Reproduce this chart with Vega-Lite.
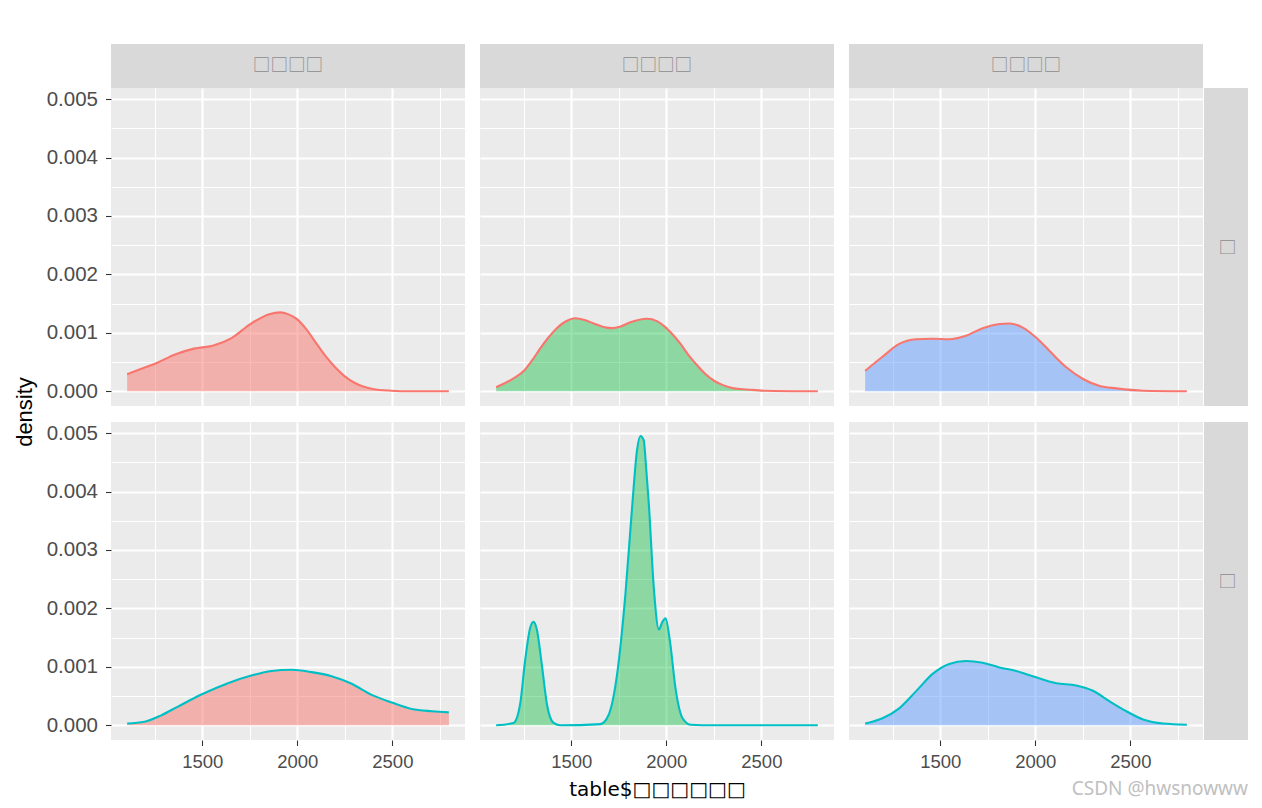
{
  "$schema": "https://vega.github.io/schema/vega-lite/v6.json",
  "background": "white",
  "padding": {"left": 14, "top": 44, "right": 0, "bottom": 0},
  "autosize": {"type": "pad"},
  "title": {"text": "CSDN @hwsnowww", "orient": "bottom", "anchor": "end", "font": "Noto Sans", "fontSize": 19, "fontWeight": "normal", "color": "#C0C0C0", "offset": -19},
  "datasets": {
    "p11": [
      {"x": 1105, "density": 0.00029}, {"x": 1159, "density": 0.00036}, {"x": 1258, "density": 0.00048},
      {"x": 1357, "density": 0.00063}, {"x": 1456, "density": 0.00073}, {"x": 1555, "density": 0.00078},
      {"x": 1654, "density": 0.00091}, {"x": 1753, "density": 0.00115}, {"x": 1852, "density": 0.00132},
      {"x": 1911, "density": 0.00135}, {"x": 1951, "density": 0.00132}, {"x": 2000, "density": 0.00123},
      {"x": 2050, "density": 0.00105}, {"x": 2100, "density": 0.00082}, {"x": 2149, "density": 0.0006},
      {"x": 2199, "density": 0.00041}, {"x": 2248, "density": 0.00026}, {"x": 2298, "density": 0.00015},
      {"x": 2347, "density": 0.00008}, {"x": 2397, "density": 0.00004}, {"x": 2495, "density": 0.00001},
      {"x": 2594, "density": 0.0}, {"x": 2797, "density": 0.0}
    ],
    "p12": [
      {"x": 1105, "density": 0.00007}, {"x": 1196, "density": 0.00022}, {"x": 1254, "density": 0.00036},
      {"x": 1301, "density": 0.00056}, {"x": 1336, "density": 0.00073}, {"x": 1380, "density": 0.00092},
      {"x": 1424, "density": 0.00108}, {"x": 1468, "density": 0.00119}, {"x": 1521, "density": 0.00125},
      {"x": 1570, "density": 0.00122}, {"x": 1618, "density": 0.00116}, {"x": 1670, "density": 0.00110},
      {"x": 1714, "density": 0.00108}, {"x": 1760, "density": 0.00111}, {"x": 1811, "density": 0.00118},
      {"x": 1899, "density": 0.00124}, {"x": 1950, "density": 0.0012}, {"x": 1987, "density": 0.00112},
      {"x": 2031, "density": 0.00098}, {"x": 2075, "density": 0.00081}, {"x": 2119, "density": 0.00061},
      {"x": 2163, "density": 0.00044}, {"x": 2207, "density": 0.00029}, {"x": 2251, "density": 0.00018},
      {"x": 2295, "density": 0.00011}, {"x": 2356, "density": 0.00005}, {"x": 2426, "density": 0.00003},
      {"x": 2514, "density": 0.00001}, {"x": 2797, "density": 0.0}
    ],
    "p13": [
      {"x": 1105, "density": 0.00035}, {"x": 1196, "density": 0.00059}, {"x": 1284, "density": 0.00081},
      {"x": 1372, "density": 0.00089}, {"x": 1460, "density": 0.0009}, {"x": 1547, "density": 0.00089},
      {"x": 1635, "density": 0.00095}, {"x": 1723, "density": 0.00108}, {"x": 1811, "density": 0.00115},
      {"x": 1864, "density": 0.00116}, {"x": 1934, "density": 0.00109}, {"x": 2004, "density": 0.00092},
      {"x": 2075, "density": 0.00069}, {"x": 2163, "density": 0.00041}, {"x": 2251, "density": 0.00021},
      {"x": 2339, "density": 0.00009}, {"x": 2426, "density": 0.00005}, {"x": 2567, "density": 0.00001},
      {"x": 2797, "density": 0.0}
    ],
    "p21": [
      {"x": 1105, "density": 0.00003}, {"x": 1196, "density": 0.00006}, {"x": 1284, "density": 0.00017},
      {"x": 1372, "density": 0.00032}, {"x": 1498, "density": 0.00053}, {"x": 1635, "density": 0.00072},
      {"x": 1758, "density": 0.00085}, {"x": 1864, "density": 0.00093}, {"x": 1969, "density": 0.00095},
      {"x": 2075, "density": 0.00091}, {"x": 2180, "density": 0.00084}, {"x": 2286, "density": 0.00071},
      {"x": 2391, "density": 0.00052}, {"x": 2497, "density": 0.00039}, {"x": 2602, "density": 0.00028},
      {"x": 2708, "density": 0.00024}, {"x": 2797, "density": 0.00022}
    ],
    "p22": [
      {"x": 1105, "density": 0.0}, {"x": 1196, "density": 0.00004}, {"x": 1231, "density": 0.00036},
      {"x": 1257, "density": 0.0011}, {"x": 1284, "density": 0.00167}, {"x": 1301, "density": 0.00177},
      {"x": 1319, "density": 0.00164}, {"x": 1345, "density": 0.00104}, {"x": 1372, "density": 0.00036},
      {"x": 1407, "density": 0.00004}, {"x": 1442, "density": 0.0}, {"x": 1653, "density": 0.00002},
      {"x": 1697, "density": 0.00018}, {"x": 1741, "density": 0.00087}, {"x": 1785, "density": 0.00225},
      {"x": 1820, "density": 0.00373}, {"x": 1846, "density": 0.00471}, {"x": 1864, "density": 0.00495},
      {"x": 1881, "density": 0.00488}, {"x": 1894, "density": 0.0044}, {"x": 1908, "density": 0.00379},
      {"x": 1934, "density": 0.00236}, {"x": 1961, "density": 0.00164}, {"x": 1978, "density": 0.00176},
      {"x": 1996, "density": 0.00183}, {"x": 2019, "density": 0.00144}, {"x": 2048, "density": 0.00064},
      {"x": 2084, "density": 0.00013}, {"x": 2128, "density": 0.00001}, {"x": 2251, "density": 0.0},
      {"x": 2797, "density": 0.0}
    ],
    "p23": [
      {"x": 1105, "density": 0.00003}, {"x": 1196, "density": 0.00012}, {"x": 1284, "density": 0.00029},
      {"x": 1372, "density": 0.00058}, {"x": 1460, "density": 0.00088}, {"x": 1547, "density": 0.00105},
      {"x": 1635, "density": 0.0011}, {"x": 1723, "density": 0.00107}, {"x": 1811, "density": 0.00099},
      {"x": 1899, "density": 0.00093}, {"x": 2004, "density": 0.00082}, {"x": 2110, "density": 0.00072},
      {"x": 2215, "density": 0.00068}, {"x": 2303, "density": 0.00059}, {"x": 2391, "density": 0.00041},
      {"x": 2479, "density": 0.00024}, {"x": 2567, "density": 0.0001}, {"x": 2673, "density": 0.00003},
      {"x": 2797, "density": 0.00001}
    ]
  },
  "spacing": 10,
  "hconcat": [
    {"width": 22, "height": 736, "view": {"fill": "#FFFFFF", "stroke": null}, "data": {"values": [{"label": "density"}]},
     "mark": {"type": "text", "font": "Liberation Sans", "fontSize": 22, "color": "#000000", "angle": 270}, "encoding": {"text": {"field": "label"}}},
    {
      "spacing": 0,
      "vconcat": [
        {
          "spacing": 15,
          "hconcat": [
            {"width": 354, "height": 44, "view": {"fill": "#D9D9D9", "stroke": null}, "data": {"values": [{"label": "□□□□"}]},
             "mark": {"type": "text", "font": "Noto Sans CJK SC", "fontSize": 17.6, "color": "#8C8C8C"}, "encoding": {"text": {"field": "label"}}},
            {"width": 354, "height": 44, "view": {"fill": "#D9D9D9", "stroke": null}, "data": {"values": [{"label": "□□□□"}]},
             "mark": {"type": "text", "font": "Noto Sans CJK SC", "fontSize": 17.6, "color": "#8C8C8C"}, "encoding": {"text": {"field": "label"}}},
            {"width": 354, "height": 44, "view": {"fill": "#D9D9D9", "stroke": null}, "data": {"values": [{"label": "□□□□"}]},
             "mark": {"type": "text", "font": "Noto Sans CJK SC", "fontSize": 17.6, "color": "#8C8C8C"}, "encoding": {"text": {"field": "label"}}}
          ]
        },
        {
          "spacing": 16,
          "vconcat": [
            {
              "spacing": 1,
              "hconcat": [
                {
                  "spacing": 15,
                  "hconcat": [
                    {
                      "width": 354, "height": 318, "data": {"name": "p11"},
                      "encoding": {
                        "x": {"field": "x", "type": "quantitative", "scale": {"domain": [1020, 2882], "nice": false, "zero": false},
                          "axis": {"values": [1250, 1500, 1750, 2000, 2250, 2500, 2750], "labels": false, "ticks": false, "title": null,
                            "gridWidth": {"condition": {"test": "datum.value % 500 === 0", "value": 2.1}, "value": 1.05}}},
                        "y": {"field": "density", "type": "quantitative", "scale": {"domain": [-0.000252, 0.00519], "nice": false, "zero": false},
                          "axis": {"values": [0, 0.0005, 0.001, 0.0015, 0.002, 0.0025, 0.003, 0.0035, 0.004, 0.0045, 0.005], "format": ".3f", "title": null,
                            "labelExpr": "abs(datum.value*1000 - round(datum.value*1000)) < 0.001 ? datum.label : ''",
                            "tickOpacity": {"condition": {"test": "abs(datum.value*1000 - round(datum.value*1000)) < 0.001", "value": 1}, "value": 0},
                            "gridWidth": {"condition": {"test": "abs(datum.value*1000 - round(datum.value*1000)) < 0.001", "value": 2.1}, "value": 1.05}}}
                      },
                      "layer": [
                        {"mark": {"type": "area", "fill": "#F8766D", "fillOpacity": 0.5, "interpolate": "monotone"}, "encoding": {"y2": {"datum": 0}}},
                        {"mark": {"type": "line", "stroke": "#F8766D", "strokeWidth": 2.1, "interpolate": "monotone"}, "encoding": {}}
                      ]
                    },
                    {
                      "width": 354, "height": 318, "data": {"name": "p12"},
                      "encoding": {
                        "x": {"field": "x", "type": "quantitative", "scale": {"domain": [1020, 2882], "nice": false, "zero": false},
                          "axis": {"values": [1250, 1500, 1750, 2000, 2250, 2500, 2750], "labels": false, "ticks": false, "title": null,
                            "gridWidth": {"condition": {"test": "datum.value % 500 === 0", "value": 2.1}, "value": 1.05}}},
                        "y": {"field": "density", "type": "quantitative", "scale": {"domain": [-0.000252, 0.00519], "nice": false, "zero": false},
                          "axis": {"values": [0, 0.0005, 0.001, 0.0015, 0.002, 0.0025, 0.003, 0.0035, 0.004, 0.0045, 0.005], "labels": false, "ticks": false, "title": null,
                            "gridWidth": {"condition": {"test": "abs(datum.value*1000 - round(datum.value*1000)) < 0.001", "value": 2.1}, "value": 1.05}}}
                      },
                      "layer": [
                        {"mark": {"type": "area", "fill": "#00BA38", "fillOpacity": 0.4, "interpolate": "monotone"}, "encoding": {"y2": {"datum": 0}}},
                        {"mark": {"type": "line", "stroke": "#F8766D", "strokeWidth": 2.1, "interpolate": "monotone"}, "encoding": {}}
                      ]
                    },
                    {
                      "width": 354, "height": 318, "data": {"name": "p13"},
                      "encoding": {
                        "x": {"field": "x", "type": "quantitative", "scale": {"domain": [1020, 2882], "nice": false, "zero": false},
                          "axis": {"values": [1250, 1500, 1750, 2000, 2250, 2500, 2750], "labels": false, "ticks": false, "title": null,
                            "gridWidth": {"condition": {"test": "datum.value % 500 === 0", "value": 2.1}, "value": 1.05}}},
                        "y": {"field": "density", "type": "quantitative", "scale": {"domain": [-0.000252, 0.00519], "nice": false, "zero": false},
                          "axis": {"values": [0, 0.0005, 0.001, 0.0015, 0.002, 0.0025, 0.003, 0.0035, 0.004, 0.0045, 0.005], "labels": false, "ticks": false, "title": null,
                            "gridWidth": {"condition": {"test": "abs(datum.value*1000 - round(datum.value*1000)) < 0.001", "value": 2.1}, "value": 1.05}}}
                      },
                      "layer": [
                        {"mark": {"type": "area", "fill": "#619CFF", "fillOpacity": 0.5, "interpolate": "monotone"}, "encoding": {"y2": {"datum": 0}}},
                        {"mark": {"type": "line", "stroke": "#F8766D", "strokeWidth": 2.1, "interpolate": "monotone"}, "encoding": {}}
                      ]
                    }
                  ]
                },
                {"width": 44, "height": 318, "view": {"fill": "#D9D9D9", "stroke": null}, "data": {"values": [{"label": "□"}]},
                 "mark": {"type": "text", "font": "Noto Sans CJK SC", "fontSize": 17.6, "color": "#8C8C8C", "angle": 90}, "encoding": {"text": {"field": "label"}}}
              ]
            },
            {
              "spacing": 1,
              "hconcat": [
                {
                  "spacing": 15,
                  "hconcat": [
                    {
                      "width": 354, "height": 318, "data": {"name": "p21"},
                      "encoding": {
                        "x": {"field": "x", "type": "quantitative", "scale": {"domain": [1020, 2882], "nice": false, "zero": false},
                          "axis": {"values": [1250, 1500, 1750, 2000, 2250, 2500, 2750], "format": "d", "title": null, "labelOverlap": false, "labelFlush": false,
                            "labelExpr": "datum.value % 500 === 0 ? datum.label : ''",
                            "tickOpacity": {"condition": {"test": "datum.value % 500 === 0", "value": 1}, "value": 0},
                            "gridWidth": {"condition": {"test": "datum.value % 500 === 0", "value": 2.1}, "value": 1.05}}},
                        "y": {"field": "density", "type": "quantitative", "scale": {"domain": [-0.000252, 0.00519], "nice": false, "zero": false},
                          "axis": {"values": [0, 0.0005, 0.001, 0.0015, 0.002, 0.0025, 0.003, 0.0035, 0.004, 0.0045, 0.005], "format": ".3f", "title": null,
                            "labelExpr": "abs(datum.value*1000 - round(datum.value*1000)) < 0.001 ? datum.label : ''",
                            "tickOpacity": {"condition": {"test": "abs(datum.value*1000 - round(datum.value*1000)) < 0.001", "value": 1}, "value": 0},
                            "gridWidth": {"condition": {"test": "abs(datum.value*1000 - round(datum.value*1000)) < 0.001", "value": 2.1}, "value": 1.05}}}
                      },
                      "layer": [
                        {"mark": {"type": "area", "fill": "#F8766D", "fillOpacity": 0.5, "interpolate": "monotone"}, "encoding": {"y2": {"datum": 0}}},
                        {"mark": {"type": "line", "stroke": "#00BFC4", "strokeWidth": 2.1, "interpolate": "monotone"}, "encoding": {}}
                      ]
                    },
                    {
                      "width": 354, "height": 318, "data": {"name": "p22"},
                      "encoding": {
                        "x": {"field": "x", "type": "quantitative", "scale": {"domain": [1020, 2882], "nice": false, "zero": false},
                          "axis": {"values": [1250, 1500, 1750, 2000, 2250, 2500, 2750], "format": "d", "labelOverlap": false, "labelFlush": false,
                            "labelExpr": "datum.value % 500 === 0 ? datum.label : ''",
                            "tickOpacity": {"condition": {"test": "datum.value % 500 === 0", "value": 1}, "value": 0},
                            "gridWidth": {"condition": {"test": "datum.value % 500 === 0", "value": 2.1}, "value": 1.05},
                            "title": "table$□□□□□□", "titlePadding": 8, "titleFont": "DejaVu Sans", "titleFontSize": 20}},
                        "y": {"field": "density", "type": "quantitative", "scale": {"domain": [-0.000252, 0.00519], "nice": false, "zero": false},
                          "axis": {"values": [0, 0.0005, 0.001, 0.0015, 0.002, 0.0025, 0.003, 0.0035, 0.004, 0.0045, 0.005], "labels": false, "ticks": false, "title": null,
                            "gridWidth": {"condition": {"test": "abs(datum.value*1000 - round(datum.value*1000)) < 0.001", "value": 2.1}, "value": 1.05}}}
                      },
                      "layer": [
                        {"mark": {"type": "area", "fill": "#00BA38", "fillOpacity": 0.4, "interpolate": "monotone"}, "encoding": {"y2": {"datum": 0}}},
                        {"mark": {"type": "line", "stroke": "#00BFC4", "strokeWidth": 2.1, "interpolate": "monotone"}, "encoding": {}}
                      ]
                    },
                    {
                      "width": 354, "height": 318, "data": {"name": "p23"},
                      "encoding": {
                        "x": {"field": "x", "type": "quantitative", "scale": {"domain": [1020, 2882], "nice": false, "zero": false},
                          "axis": {"values": [1250, 1500, 1750, 2000, 2250, 2500, 2750], "format": "d", "title": null, "labelOverlap": false, "labelFlush": false,
                            "labelExpr": "datum.value % 500 === 0 ? datum.label : ''",
                            "tickOpacity": {"condition": {"test": "datum.value % 500 === 0", "value": 1}, "value": 0},
                            "gridWidth": {"condition": {"test": "datum.value % 500 === 0", "value": 2.1}, "value": 1.05}}},
                        "y": {"field": "density", "type": "quantitative", "scale": {"domain": [-0.000252, 0.00519], "nice": false, "zero": false},
                          "axis": {"values": [0, 0.0005, 0.001, 0.0015, 0.002, 0.0025, 0.003, 0.0035, 0.004, 0.0045, 0.005], "labels": false, "ticks": false, "title": null,
                            "gridWidth": {"condition": {"test": "abs(datum.value*1000 - round(datum.value*1000)) < 0.001", "value": 2.1}, "value": 1.05}}}
                      },
                      "layer": [
                        {"mark": {"type": "area", "fill": "#619CFF", "fillOpacity": 0.5, "interpolate": "monotone"}, "encoding": {"y2": {"datum": 0}}},
                        {"mark": {"type": "line", "stroke": "#00BFC4", "strokeWidth": 2.1, "interpolate": "monotone"}, "encoding": {}}
                      ]
                    }
                  ]
                },
                {"width": 44, "height": 318, "view": {"fill": "#D9D9D9", "stroke": null}, "data": {"values": [{"label": "□"}]},
                 "mark": {"type": "text", "font": "Noto Sans CJK SC", "fontSize": 17.6, "color": "#8C8C8C", "angle": 90}, "encoding": {"text": {"field": "label"}}}
              ]
            }
          ]
        }
      ]
    }
  ],
  "config": {
    "view": {"fill": "#EBEBEB", "stroke": null},
    "axis": {
      "domain": false,
      "gridColor": "#FFFFFF",
      "gridOpacity": 1,
      "tickColor": "#333333",
      "tickSize": 5.5,
      "tickWidth": 1.07,
      "labelColor": "#4D4D4D",
      "labelFont": "Liberation Sans",
      "titleFont": "Liberation Sans, Noto Sans CJK SC",
      "titleFontSize": 22,
      "titleFontWeight": "normal",
      "titleColor": "#000000"
    },
    "axisY": {"labelFontSize": 20.5, "labelPadding": 8},
    "axisX": {"labelFontSize": 18.5, "labelPadding": 7}
  }
}
